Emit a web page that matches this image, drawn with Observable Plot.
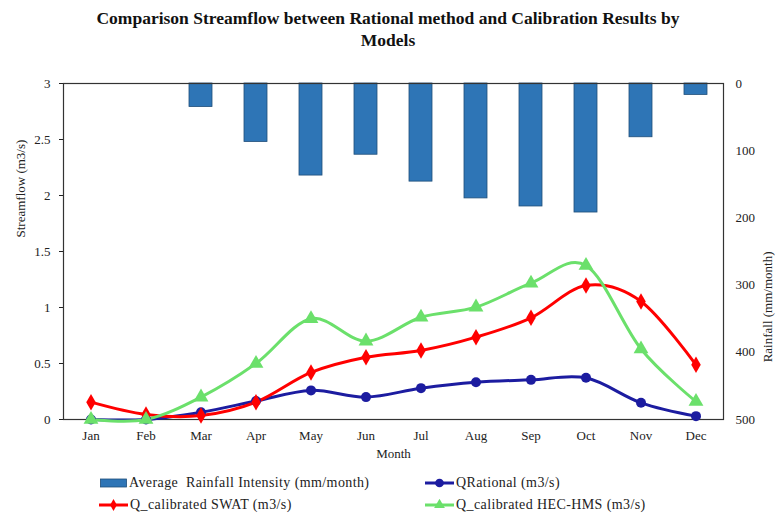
<!DOCTYPE html>
<html><head><meta charset="utf-8">
<script src="https://cdn.jsdelivr.net/npm/d3@7"></script>
<script src="https://cdn.jsdelivr.net/npm/@observablehq/plot@0.6"></script>
<style>
body{margin:0;background:#fff;font-family:"Liberation Serif","Times New Roman",serif;color:#111;}
#wrap{position:relative;width:776px;height:518px;overflow:hidden;}
#title{position:absolute;left:0;top:7px;width:776px;text-align:center;font-weight:bold;font-size:17.5px;line-height:22px;}
#chart{position:absolute;left:0;top:62px;}
.leg{position:absolute;font-size:14px;letter-spacing:0.4px;white-space:pre;display:flex;align-items:center;height:18px;color:#222;}
.leg svg{margin-right:1px;}
</style></head>
<body><div id="wrap">
<div id="title">Comparison Streamflow between Rational method and Calibration Results by<br>Models</div>
<div id="chart"></div>
<div id="legend"></div>
</div>
<script>
const months = ["Jan","Feb","Mar","Apr","May","Jun","Jul","Aug","Sep","Oct","Nov","Dec"];
const rainfall = [0,0,35,87,137,106,146,171,183,192,80,17];
const qRational = [0,0,0.065,0.165,0.26,0.2,0.28,0.333,0.354,0.372,0.149,0.03];
const qSwat = [0.155,0.045,0.035,0.155,0.42,0.556,0.616,0.735,0.908,1.196,1.054,0.488];
const qHec = [0,0,0.2,0.5,0.9,0.7,0.913,1.003,1.217,1.375,0.63,0.16];
const flowTicks = [0,0.5,1,1.5,2,2.5,3];
const rainTicks = [0,100,200,300,400,500];
const seriesNames = ["Average  Rainfall Intensity (mm/month)","QRational (m3/s)","Q_calibrated SWAT (m3/s)","Q_calibrated HEC-HMS (m3/s)"];
const axisTitles = ["Streamflow (m3/s)", "Rainfall (mm/month)", "Month"];

const barFill = "#2E75B6", barStroke = "#1F4E79";
const cBlue = "#1C1CA0", cRed = "#FF0000", cGreen = "#6BE06B";
const flowMax = 3, rainMax = 500;
const toFlow = r => flowMax - r * flowMax / rainMax;

const bars = months.map((m,i)=>({m, r:rainfall[i]})).filter(d=>d.r>0);
const ser = arr => months.map((m,i)=>({m, v:arr[i]}));

const chart = Plot.plot({
  width: 776, height: 408,
  marginTop: 21, marginLeft: 63, marginRight: 53, marginBottom: 51,
  style: {fontFamily: "Liberation Serif, serif", fontSize: "13px", color: "#222", background: "#fff"},
  x: {domain: months, paddingInner: 0.59, paddingOuter: 0.295, label: null},
  y: {domain: [0, flowMax]},
  marks: [
    Plot.barY(bars, {x: "m", y1: flowMax, y2: d => toFlow(d.r), fill: barFill, stroke: barStroke, strokeWidth: 0.8}),
    Plot.frame({stroke: "#333", strokeWidth: 1.2}),
    Plot.axisX({tickSize: 0, tickPadding: 11, label: axisTitles[2], labelAnchor: "center", labelOffset: 38, labelArrow: "none"}),
    Plot.axisY(flowTicks, {anchor: "left", tickSize: 4, tickPadding: 9, tickFormat: d => String(d), label: null}),
    Plot.axisY(rainTicks.map(toFlow), {anchor: "right", tickSize: 0, tickPadding: 12, tickFormat: d => String(Math.round((flowMax - d) * rainMax / flowMax)), label: null}),
    Plot.text([axisTitles[0]], {frameAnchor: "left", rotate: -90, dx: -43, dy: -14, fontSize: 13, fill: "#222"}),
    Plot.text([axisTitles[1]], {frameAnchor: "right", rotate: -90, dx: 44, dy: 0, fontSize: 13, fill: "#222"}),
    Plot.line(ser(qRational), {x: "m", y: "v", stroke: cBlue, strokeWidth: 3, curve: "cardinal"}),
    Plot.line(ser(qSwat), {x: "m", y: "v", stroke: cRed, strokeWidth: 3, curve: "cardinal"}),
    Plot.line(ser(qHec), {x: "m", y: "v", stroke: cGreen, strokeWidth: 3, curve: "cardinal"}),
    Plot.dot(ser(qRational), {x: "m", y: "v", fill: cBlue, r: 5, symbol: "circle"}),
    Plot.dot(ser(qSwat), {x: "m", y: "v", fill: cRed, r: 5, symbol: "diamond"}),
    Plot.dot(ser(qHec), {x: "m", y: "v", fill: cGreen, r: 5.5, symbol: "triangle"})
  ]
});
document.getElementById("chart").appendChild(chart);

// legend
const leg = document.getElementById("legend");
const items = [
  {name: seriesNames[0], kind: "bar", left: 100, top: 474},
  {name: seriesNames[1], kind: "circle", color: cBlue, left: 425, top: 474},
  {name: seriesNames[2], kind: "diamond", color: cRed, left: 99, top: 496},
  {name: seriesNames[3], kind: "triangle", color: cGreen, left: 425, top: 496}
];
for (const it of items) {
  const div = document.createElement("div");
  div.className = "leg";
  div.style.left = it.left + "px";
  div.style.top = it.top + "px";
  let sw;
  if (it.kind === "bar") {
    sw = `<svg width="28" height="12"><rect x="0.5" y="2" width="26" height="8" fill="${barFill}" stroke="${barStroke}" stroke-width="0.8"/></svg>`;
  } else {
    const sym = it.kind === "circle" ? d3.symbolCircle : it.kind === "diamond" ? d3.symbolDiamond : d3.symbolTriangle;
    const size = it.kind === "circle" ? 60 : it.kind === "diamond" ? 40 : 50;
    const p = d3.symbol(sym, size)();
    sw = `<svg width="30" height="12"><line x1="0" x2="29" y1="6" y2="6" stroke="${it.color}" stroke-width="3"/><path d="${p}" transform="translate(14.5,6)" fill="${it.color}"/></svg>`;
  }
  div.innerHTML = sw + `<span>${it.name}</span>`;
  leg.appendChild(div);
}
</script>
</body></html>
